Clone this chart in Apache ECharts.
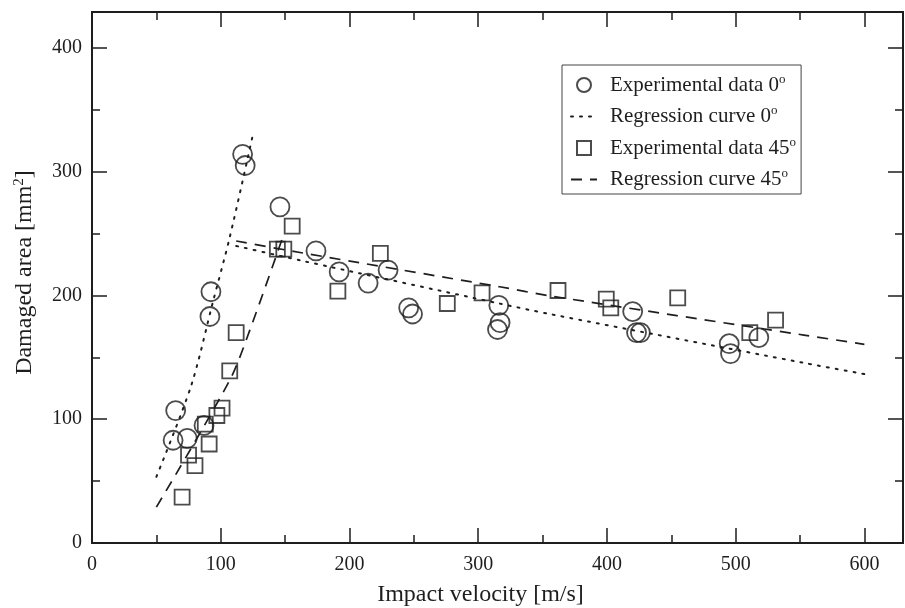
<!DOCTYPE html>
<html>
<head>
<meta charset="utf-8">
<script src="https://cdn.jsdelivr.net/npm/echarts@6/dist/echarts.min.js"></script>
<style>html,body{margin:0;padding:0;background:#fff}#c{width:905px;height:608px}</style>
</head>
<body>
<div id="c"></div>
<script>
// Experimental data 0 deg: [velocity m/s, damaged area mm2]
var circles0 = [[63,83],[74,84.5],[65,107],[87,95],[91.6,183],[92.4,203],[117,314],[119,305],[146,271.5],[174,236],[192,219],[214.5,210],[230,220.5],[246,190],[249,185],[315,172.5],[316,192],[317,178],[420,187],[423,170],[426,170],[495,161],[496,153],[518,166]];
// Experimental data 45 deg
var squares45 = [[70,37],[75,71],[80,62.5],[88,96],[91,80],[97,103],[101,109],[107,139],[112,170],[144,237.5],[149,237.5],[155.5,256],[191,203.5],[224,234],[276,193.5],[303,202],[362,204],[399.5,197],[403,190],[455,198],[511,170],[531,180]];
// Regression curve 0 deg (two branches)
var reg0Low = [[50,53.5],[77,127],[94,195],[107,247],[125,330]];
var reg0High = [[112,240],[161.5,228.4],[316,193.6],[355.5,185],[553,145.5],[600,136.5]];
// Regression curve 45 deg (two branches)
var reg45Low = [[50,29],[107,131.6],[122.6,172],[148.5,248]];
var reg45High = [[112,244],[161.5,234.7],[316.7,207],[355.5,199.7],[553,168],[600,160.5]];
// Axes
var xMin = 0, xMax = 630, yMin = 0, yMax = 429;
var majorStep = 100, minorStep = 50;
var legendNames = ['Experimental data 0', 'Regression curve 0', 'Experimental data 45', 'Regression curve 45'];

var ink = '#1e1e1e';
var font = 'Liberation Serif';

function axisSet(dim, pos, step, len, labels) {
  var a = {
    type: 'value', position: pos, min: dim === 'x' ? xMin : yMin, max: dim === 'x' ? xMax : yMax,
    interval: step,
    axisLine: { show: true, onZero: false, lineStyle: { color: ink, width: 2 } },
    axisTick: { show: true, inside: true, length: len, lineStyle: { color: ink, width: 1.5 } },
    axisLabel: { show: false },
    splitLine: { show: false }
  };
  if (labels) {
    a.axisLabel = {
      show: true, inside: false, margin: dim === 'x' ? 12 : 10, color: ink, fontFamily: font, fontSize: 20,
      formatter: function (v) { return v % majorStep === 0 ? String(v) : ''; }
    };
  }
  return a;
}

var xAxes = [axisSet('x', 'bottom', majorStep, 15, true), axisSet('x', 'bottom', minorStep, 8, false),
             axisSet('x', 'top', majorStep, 15, false), axisSet('x', 'top', minorStep, 8, false)];
var yAxes = [axisSet('y', 'left', majorStep, 15, true), axisSet('y', 'left', minorStep, 8, false),
             axisSet('y', 'right', majorStep, 15, false), axisSet('y', 'right', minorStep, 8, false)];

xAxes[0].name = 'Impact velocity [m/s]';
xAxes[0].nameLocation = 'middle';
xAxes[0].nameGap = 40;
xAxes[0].nameTextStyle = { color: ink, fontFamily: font, fontSize: 24, padding: [0, 34, 0, 0] };

yAxes[0].name = '{t|Damaged area [mm}{s|2}{t|]}';
yAxes[0].nameLocation = 'middle';
yAxes[0].nameGap = 54;
yAxes[0].nameTextStyle = {
  color: ink, fontFamily: font, fontSize: 24, padding: [0, 0, 0, 10],
  rich: {
    t: { fontFamily: font, fontSize: 24, color: ink, lineHeight: 26 },
    s: { fontFamily: font, fontSize: 15, color: ink, lineHeight: 12, verticalAlign: 'top' }
  }
};

var lineBase = { type: 'line', xAxisIndex: 0, yAxisIndex: 0, showSymbol: false, symbol: 'none', smooth: 0.3, silent: true, z: 2,
  itemStyle: { color: ink } };
var hidden = { color: 'rgba(0,0,0,0)', borderWidth: 0, opacity: 0 };

var option = {
  animation: false,
  backgroundColor: '#fff',
  grid: { left: 92, right: 2, top: 12, bottom: 65, containLabel: false, outerBoundsMode: 'none' },
  xAxis: xAxes,
  yAxis: yAxes,
  legend: {
    orient: 'vertical', left: 562, top: 65,
    padding: [8, 5, 4, 8], itemGap: 9, itemWidth: 26, itemHeight: 14,
    borderColor: '#444', borderWidth: 1, backgroundColor: '#fff',
    data: [
      { name: legendNames[0] },
      { name: legendNames[1], itemStyle: hidden },
      { name: legendNames[2], icon: 'path://M0,0H10V10H0Z', symbolKeepAspect: true },
      { name: legendNames[3], itemStyle: hidden }
    ],
    formatter: function (n) { return '{t|' + n + '}{s|o}'; },
    textStyle: {
      color: ink, fontFamily: font, fontSize: 21,
      rich: {
        t: { fontFamily: font, fontSize: 21, color: ink, lineHeight: 24, padding: [0, 0, 0, 8] },
        s: { fontFamily: font, fontSize: 13, color: ink, lineHeight: 12, verticalAlign: 'top' }
      }
    }
  },
  series: [
    Object.assign({}, lineBase, { name: legendNames[1], data: reg0Low, lineStyle: { color: ink, width: 2, type: [2, 7], cap: 'round' } }),
    Object.assign({}, lineBase, { name: legendNames[1], data: reg0High, lineStyle: { color: ink, width: 2, type: [2, 7], cap: 'round' } }),
    Object.assign({}, lineBase, { name: legendNames[3], data: reg45Low, lineStyle: { color: ink, width: 1.7, type: [11, 8] } }),
    Object.assign({}, lineBase, { name: legendNames[3], data: reg45High, lineStyle: { color: ink, width: 1.7, type: [11, 8] } }),
    { type: 'scatter', name: legendNames[0], data: circles0, symbol: 'circle', symbolSize: 19, z: 3,
      itemStyle: { color: 'rgba(0,0,0,0)', borderColor: ink, borderWidth: 1.8 } },
    { type: 'scatter', name: legendNames[2], data: squares45, symbol: 'rect', symbolSize: 15, symbolKeepAspect: true, z: 3,
      itemStyle: { color: 'rgba(0,0,0,0)', borderColor: ink, borderWidth: 1.8 } }
  ]
};

var chart = echarts.init(document.getElementById('c'), null, { renderer: 'canvas' });
chart.setOption(option);
</script>
</body>
</html>
